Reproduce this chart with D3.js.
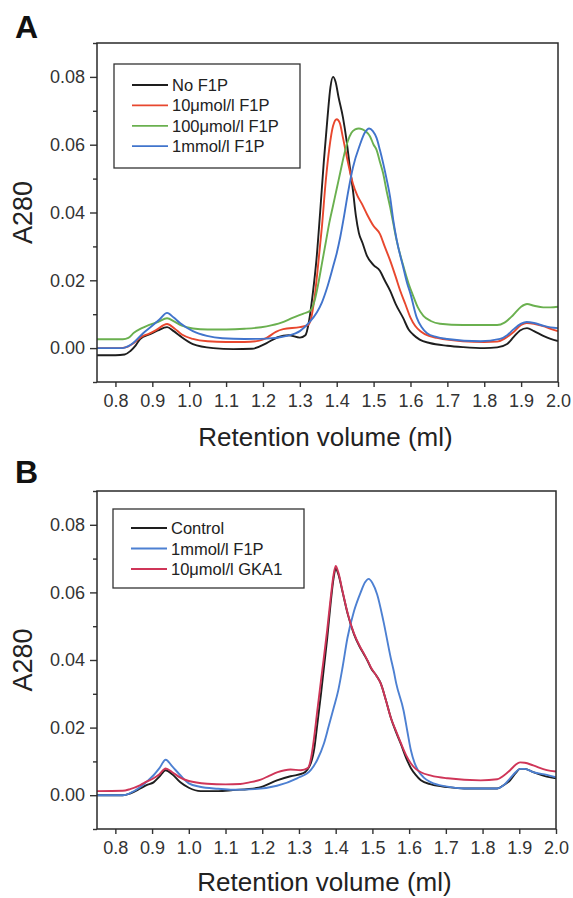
<!DOCTYPE html>
<html><head><meta charset="utf-8">
<script src="https://cdn.jsdelivr.net/npm/d3@7"></script>
<style>
body{margin:0;background:#fff}
text{font-family:"Liberation Sans",Arial,Helvetica,sans-serif}
</style>
</head><body>
<svg id="chart" width="573" height="898"></svg>
<script>
// ---------- axis definitions ----------
const xDomain = [0.75, 2.0];
const yDomain = [-0.01, 0.09];
const xTickValues = [0.8,0.9,1.0,1.1,1.2,1.3,1.4,1.5,1.6,1.7,1.8,1.9,2.0];
const yTickValues = [0.00,0.02,0.04,0.06,0.08];
const yMinorTicks = [-0.01,0.01,0.03,0.05,0.07,0.09];
const xLabel = "Retention volume (ml)";
const yLabel = "A280";

// ---------- Panel A data: [retention volume (ml), A280] ----------
const labelsA = ["No F1P", "10\u03BCmol/l F1P", "100\u03BCmol/l F1P", "1mmol/l F1P"];
const noF1P = [[0.75,-0.0021],[0.80,-0.0021],[0.825,-0.0019],[0.84,-0.0009],[0.855,0.0008],[0.867,0.0027],[0.894,0.0041],[0.915,0.0052],[0.94,0.0062],[0.958,0.0050],[0.975,0.0036],[1.01,0.0012],[1.065,0.0],[1.12,-0.0003],[1.17,-0.0002],[1.21,0.0015],[1.24,0.0032],[1.27,0.0038],[1.30,0.0031],[1.315,0.0038],[1.325,0.008],[1.335,0.016],[1.345,0.026],[1.355,0.040],[1.365,0.055],[1.375,0.068],[1.383,0.077],[1.39,0.080],[1.397,0.0785],[1.405,0.074],[1.417,0.068],[1.427,0.061],[1.436,0.053],[1.444,0.0465],[1.452,0.039],[1.46,0.034],[1.47,0.031],[1.482,0.0272],[1.50,0.0245],[1.517,0.0228],[1.53,0.020],[1.545,0.0169],[1.56,0.013],[1.58,0.0089],[1.595,0.0055],[1.607,0.0040],[1.625,0.0025],[1.652,0.0015],[1.70,0.0007],[1.742,0.0003],[1.80,0.0],[1.835,0.0002],[1.862,0.0012],[1.88,0.0033],[1.897,0.0052],[1.916,0.0059],[1.935,0.005],[1.96,0.0036],[1.98,0.0027],[2.0,0.0021]];
const f1p10um = [[0.75,0.0],[0.81,0.0],[0.83,0.0003],[0.85,0.0015],[0.87,0.0033],[0.89,0.0042],[0.91,0.0053],[0.94,0.0071],[0.96,0.0058],[0.98,0.0040],[1.01,0.0027],[1.05,0.0020],[1.10,0.0018],[1.15,0.0018],[1.19,0.0022],[1.21,0.003],[1.235,0.0048],[1.255,0.0056],[1.30,0.0062],[1.322,0.0068],[1.33,0.0085],[1.34,0.015],[1.35,0.025],[1.36,0.036],[1.37,0.049],[1.38,0.059],[1.39,0.0655],[1.40,0.0675],[1.408,0.0665],[1.417,0.062],[1.431,0.0545],[1.444,0.0485],[1.456,0.045],[1.468,0.0426],[1.482,0.0395],[1.50,0.036],[1.517,0.0337],[1.53,0.030],[1.545,0.0258],[1.56,0.021],[1.572,0.017],[1.586,0.013],[1.60,0.009],[1.613,0.0065],[1.627,0.005],[1.65,0.0036],[1.672,0.003],[1.742,0.002],[1.80,0.0018],[1.835,0.0019],[1.855,0.0028],[1.878,0.0046],[1.90,0.0068],[1.915,0.0074],[1.935,0.0072],[1.96,0.0065],[1.98,0.0057],[2.0,0.005]];
const f1p100um = [[0.75,0.0026],[0.82,0.0026],[0.835,0.003],[0.85,0.0045],[0.87,0.0058],[0.89,0.0068],[0.915,0.0077],[0.94,0.0088],[0.96,0.0078],[0.98,0.0066],[1.01,0.0058],[1.05,0.0055],[1.10,0.0055],[1.15,0.0057],[1.21,0.0064],[1.25,0.0075],[1.28,0.0089],[1.31,0.0102],[1.328,0.011],[1.34,0.014],[1.35,0.019],[1.36,0.025],[1.37,0.031],[1.38,0.037],[1.39,0.042],[1.40,0.047],[1.41,0.052],[1.42,0.057],[1.43,0.061],[1.44,0.0635],[1.45,0.0645],[1.46,0.0648],[1.47,0.0645],[1.48,0.0638],[1.49,0.0625],[1.50,0.060],[1.508,0.0585],[1.517,0.055],[1.526,0.0515],[1.535,0.0465],[1.545,0.0415],[1.553,0.037],[1.562,0.032],[1.58,0.0245],[1.595,0.019],[1.607,0.0155],[1.62,0.012],[1.635,0.0095],[1.655,0.0080],[1.68,0.0072],[1.742,0.0068],[1.835,0.0068],[1.855,0.0075],[1.878,0.0097],[1.90,0.0122],[1.916,0.0130],[1.935,0.0125],[1.96,0.012],[1.98,0.012],[2.0,0.0122]];
const f1p1mm = [[0.75,0.0],[0.82,0.0],[0.835,0.0006],[0.848,0.0015],[0.875,0.0044],[0.902,0.0068],[0.92,0.0085],[0.94,0.0104],[0.958,0.009],[0.975,0.0074],[1.01,0.0050],[1.048,0.0036],[1.09,0.0029],[1.15,0.0027],[1.21,0.0028],[1.265,0.0036],[1.30,0.005],[1.325,0.0075],[1.346,0.0105],[1.36,0.0135],[1.373,0.0175],[1.39,0.024],[1.40,0.028],[1.41,0.033],[1.42,0.039],[1.43,0.0455],[1.444,0.0533],[1.463,0.060],[1.476,0.0635],[1.488,0.0648],[1.498,0.064],[1.508,0.062],[1.517,0.0585],[1.526,0.0545],[1.535,0.050],[1.545,0.0444],[1.553,0.038],[1.563,0.0317],[1.58,0.0240],[1.59,0.0195],[1.60,0.016],[1.617,0.009],[1.63,0.0062],[1.645,0.0044],[1.67,0.0033],[1.70,0.0027],[1.79,0.002],[1.843,0.0027],[1.862,0.0038],[1.88,0.0056],[1.90,0.0072],[1.915,0.0077],[1.935,0.0074],[1.96,0.0066],[1.98,0.0061],[2.0,0.0059]];

// ---------- Panel B data ----------
const labelsB = ["Control", "1mmol/l F1P", "10\u03BCmol/l GKA1"];
const controlB = [[0.75,0.0],[0.82,0.0],[0.84,0.0005],[0.868,0.002],[0.885,0.003],[0.904,0.0038],[0.92,0.0055],[0.937,0.0074],[0.955,0.0062],[0.977,0.0038],[1.00,0.0022],[1.032,0.0012],[1.08,0.0012],[1.12,0.0015],[1.19,0.0022],[1.24,0.0044],[1.277,0.0056],[1.312,0.0065],[1.332,0.0094],[1.342,0.014],[1.35,0.021],[1.36,0.030],[1.367,0.0368],[1.377,0.0465],[1.386,0.0565],[1.394,0.064],[1.40,0.067],[1.407,0.0655],[1.419,0.060],[1.433,0.0535],[1.45,0.0476],[1.465,0.044],[1.477,0.0417],[1.487,0.0397],[1.496,0.0376],[1.51,0.0355],[1.523,0.033],[1.537,0.028],[1.55,0.023],[1.565,0.0185],[1.578,0.0150],[1.592,0.011],[1.605,0.008],[1.618,0.006],[1.632,0.0044],[1.66,0.0032],[1.705,0.0024],[1.75,0.002],[1.84,0.002],[1.858,0.003],[1.875,0.0044],[1.89,0.0065],[1.902,0.0078],[1.915,0.0078],[1.938,0.0068],[1.975,0.0055],[2.0,0.005]];
const f1p1mmB = [[0.75,0.0],[0.82,0.0],[0.84,0.0006],[0.868,0.0024],[0.885,0.004],[0.904,0.0059],[0.92,0.008],[0.937,0.0105],[0.955,0.0085],[0.977,0.0059],[1.00,0.0035],[1.03,0.0025],[1.08,0.0019],[1.12,0.0016],[1.18,0.0018],[1.24,0.0028],[1.295,0.005],[1.332,0.0074],[1.35,0.0105],[1.368,0.0153],[1.38,0.020],[1.395,0.026],[1.407,0.031],[1.419,0.038],[1.432,0.0465],[1.45,0.0545],[1.468,0.060],[1.48,0.063],[1.49,0.064],[1.50,0.0628],[1.513,0.0594],[1.53,0.0515],[1.55,0.0406],[1.558,0.0368],[1.565,0.033],[1.585,0.025],[1.595,0.019],[1.605,0.0132],[1.615,0.0095],[1.624,0.0074],[1.64,0.0052],[1.66,0.0038],[1.70,0.0026],[1.75,0.002],[1.84,0.002],[1.858,0.003],[1.875,0.005],[1.89,0.0068],[1.902,0.0078],[1.915,0.0078],[1.938,0.0068],[1.975,0.006],[2.0,0.0053]];
const gka1B = [[0.75,0.0012],[0.82,0.0013],[0.84,0.0018],[0.868,0.003],[0.885,0.004],[0.904,0.005],[0.92,0.0062],[0.937,0.0079],[0.955,0.0068],[0.977,0.0052],[1.00,0.0042],[1.05,0.0034],[1.10,0.0032],[1.14,0.0033],[1.165,0.0038],[1.196,0.0046],[1.22,0.0058],[1.242,0.0068],[1.277,0.0076],[1.305,0.0074],[1.324,0.008],[1.333,0.011],[1.34,0.016],[1.35,0.025],[1.36,0.034],[1.367,0.040],[1.377,0.049],[1.386,0.058],[1.394,0.065],[1.40,0.0678],[1.407,0.066],[1.419,0.0602],[1.433,0.0537],[1.45,0.0478],[1.465,0.0442],[1.477,0.0419],[1.487,0.0398],[1.496,0.0378],[1.51,0.0355],[1.523,0.033],[1.537,0.028],[1.55,0.023],[1.565,0.0188],[1.578,0.0153],[1.592,0.0118],[1.605,0.0094],[1.618,0.0078],[1.632,0.0068],[1.66,0.0058],[1.705,0.005],[1.795,0.0044],[1.84,0.0047],[1.858,0.0058],[1.875,0.0074],[1.89,0.009],[1.902,0.0097],[1.915,0.0096],[1.938,0.0088],[1.975,0.0074],[2.0,0.007]];

const colorsA = ["#1e1e1e", "#e8472e", "#6ab04f", "#4174cc"];
const colorsB = ["#1e1e1e", "#4d80d2", "#cf3558"];

const svg = d3.select("#chart");

function drawPanel(opt) {
  const {l, t, r, b} = opt.box;
  const x = d3.scaleLinear().domain(xDomain).range([l, r]);
  const y = d3.scaleLinear().domain(yDomain).range([b, t]);
  const g = svg.append("g");
  const clipId = "clip" + opt.letter;
  g.append("clipPath").attr("id", clipId).append("rect")
    .attr("x", l).attr("y", t).attr("width", r - l).attr("height", b - t);

  // axes
  const xa = g.append("g").attr("transform", `translate(0,${b})`)
    .call(d3.axisBottom(x).tickValues(xTickValues).tickFormat(d3.format(".1f")).tickSize(5).tickPadding(7));
  const ya = g.append("g").attr("transform", `translate(${l},0)`)
    .call(d3.axisLeft(y).tickValues(yTickValues).tickFormat(d3.format(".2f")).tickSize(7).tickPadding(5));
  const ym = g.append("g").attr("transform", `translate(${l},0)`)
    .call(d3.axisLeft(y).tickValues(yMinorTicks).tickFormat("").tickSize(4));
  [xa, ya, ym].forEach(a => {
    a.select(".domain").remove();
    a.selectAll("line").attr("stroke", "#333").attr("stroke-width", 1.4);
    a.selectAll("text").attr("fill", "#333").style("font-size", "18px")
      .style("font-family", '"Liberation Sans",Arial,sans-serif');
  });

  // curves
  const line = d3.line().x(d => x(d[0])).y(d => y(d[1])).curve(d3.curveMonotoneX);
  const lg = g.append("g").attr("clip-path", `url(#${clipId})`);
  opt.series.forEach((s, i) => {
    lg.append("path").datum(s).attr("d", line)
      .attr("fill", "none").attr("stroke", opt.colors[i])
      .attr("stroke-width", 1.9).attr("stroke-linejoin", "round");
  });

  // frame
  g.append("rect").attr("x", l).attr("y", t).attr("width", r - l).attr("height", b - t)
    .attr("fill", "none").attr("stroke", "#2a2a2a").attr("stroke-width", 1.5);

  // legend
  const L = opt.legend;
  g.append("rect").attr("x", L.x).attr("y", L.y).attr("width", L.w).attr("height", L.h)
    .attr("fill", "#fff").attr("stroke", "#333").attr("stroke-width", 1.3);
  opt.labels.forEach((lab, i) => {
    const cy = L.y0 + i * L.dy;
    g.append("line").attr("x1", L.x + 18).attr("x2", L.x + 54).attr("y1", cy).attr("y2", cy)
      .attr("stroke", opt.colors[i]).attr("stroke-width", 1.8);
    g.append("text").attr("x", L.x + 58).attr("y", cy + 6).text(lab)
      .attr("fill", "#222").style("font-size", "16.5px");
  });

  // labels
  g.append("text").attr("x", (l + r) / 2 - 2).attr("y", opt.xLabelY).attr("text-anchor", "middle")
    .attr("fill", "#222").style("font-size", "26px").text(xLabel);
  g.append("text").attr("transform", `translate(32,${(t + b) / 2}) rotate(-90)`)
    .attr("text-anchor", "middle").attr("fill", "#222").style("font-size", "27px").text(yLabel);
  g.append("text").attr("x", 15).attr("y", opt.letterY).attr("fill", "#111")
    .style("font-size", "32px").style("font-weight", "bold").text(opt.letter);
}

drawPanel({
  letter: "A", letterY: 38,
  box: {l: 97, t: 43, r: 558, b: 382},
  series: [noF1P, f1p10um, f1p100um, f1p1mm],
  colors: colorsA, labels: labelsA,
  legend: {x: 114, y: 64, w: 186, h: 104, y0: 85, dy: 20.4},
  xLabelY: 446
});

drawPanel({
  letter: "B", letterY: 483,
  box: {l: 97, t: 491, r: 556, b: 829},
  series: [controlB, f1p1mmB, gka1B],
  colors: colorsB, labels: labelsB,
  legend: {x: 113, y: 509, w: 191, h: 79, y0: 528, dy: 20.5},
  xLabelY: 891
});
</script>
</body></html>
